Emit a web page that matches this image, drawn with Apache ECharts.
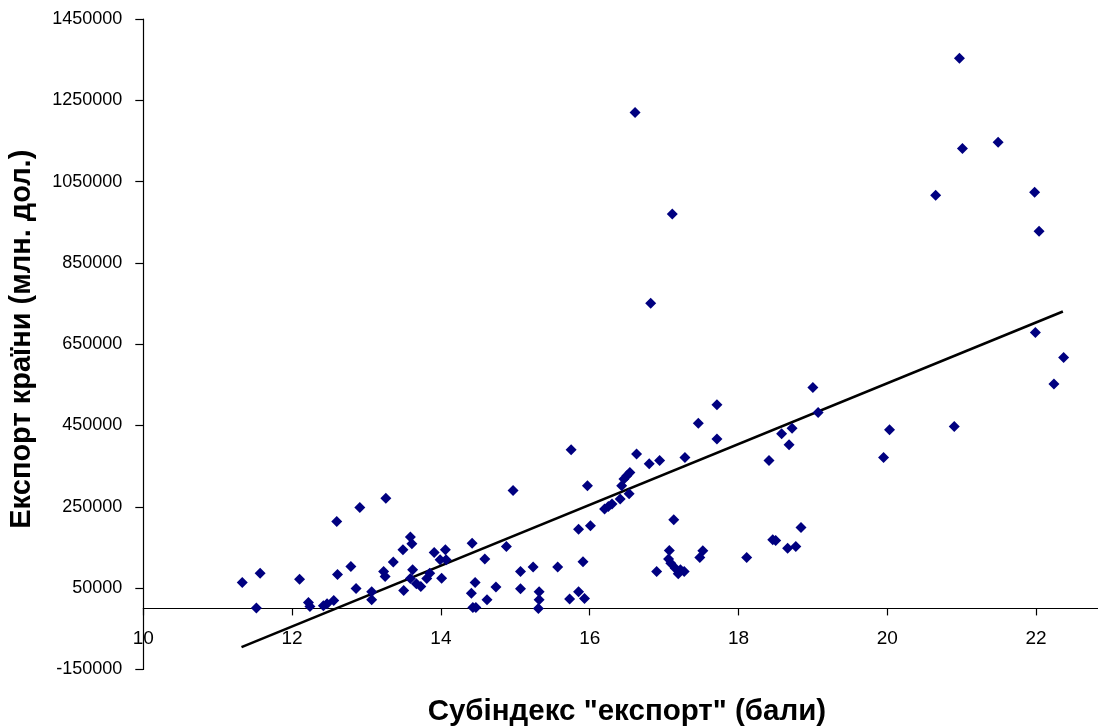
<!DOCTYPE html>
<html lang="uk">

<head>
    <meta charset="UTF-8">
    <style>
    html,
    body {
        height: 100%;
        margin: 0;
        background: #fff;
    }
  </style>
</head>

<body>
<div id="chart" style="width:1098px;height:728px;"></div>
<script src="https://cdn.jsdelivr.net/npm/echarts@6/dist/echarts.min.js"></script>
<script>
    // субіндекс "експорт" (бали)
    var scoreX = [
        11.33, 11.52, 11.57, 12.10, 12.22, 12.24, 12.42, 12.47, 12.56, 12.60,
        12.61, 12.79, 12.86, 12.91, 13.07, 13.07, 13.23, 13.25, 13.26, 13.36,
        13.49, 13.50, 13.59, 13.61, 13.62, 13.59, 13.67, 13.73, 13.81, 13.85,
        13.91, 13.99, 14.06, 14.07, 14.01, 14.42, 14.41, 14.46, 14.43, 14.47,
        14.59, 14.62, 14.74, 14.88, 14.97, 15.07, 15.07, 15.24, 15.32, 15.32,
        15.31, 15.57, 15.73, 15.75, 15.85, 15.85, 15.91, 15.93, 15.97, 16.01,
        16.20, 16.25, 16.30, 16.41, 16.43, 16.46, 16.50, 16.54, 16.53, 16.63,
        16.80, 16.94, 16.90, 17.07, 17.06, 17.09, 17.13, 17.15, 17.19, 17.22,
        17.27, 17.28, 17.46, 17.48, 17.52, 17.71, 17.71, 18.11, 18.41, 18.46,
        18.50, 18.58, 18.72, 18.68, 18.66, 18.77, 18.84, 19.00, 19.07, 19.95,
        20.03, 20.90, 21.99, 22.24, 22.37, 16.61, 17.11, 16.82, 20.97, 21.01,
        21.49, 20.65, 21.98, 22.04
    ];
    // експорт країни (млн. дол.)
    var exportY = [
        63700, 1000, 86800, 72000, 14500, 4700, 6400, 11300, 19400, 213800,
        83400, 103100, 49000, 248200, 40800, 21200, 90800, 78500, 271300, 113900,
        144200, 44000, 175400, 158900, 95000, 73600, 60500, 53900, 73600, 86800,
        137500, 119600, 144200, 119600, 74500, 160600, 37600, 63700, 2200, 2200,
        121300, 21200, 52400, 152300, 290000, 90800, 48200, 101600, 40800, 21200,
        0, 101600, 22900, 390200, 40800, 195000, 114600, 24400, 301600, 203200,
        244300, 250700, 256600, 268900, 301600, 318100, 326200, 334300, 281900, 379600,
        355700, 363800, 90800, 142400, 121300, 111400, 217900, 99100, 85100, 95000,
        90800, 371200, 455800, 125200, 141700, 500900, 416500, 125200, 363800, 168800,
        167000, 429500, 443500, 402500, 148300, 152300, 199000, 543400, 481900, 371200,
        439400, 447500, 678700, 551800, 617200, 1219900, 970000, 751000, 1353700, 1131400,
        1147100, 1016700, 1024100, 928100
    ];
    // лінія тренду
    var trendX = [11.32, 22.36];
    var trendY = [-95200, 730400];

    var yMin = -150000, yMax = 1450000;

    var points = [];
    for (var i = 0; i < scoreX.length; i++) {
        points.push([scoreX[i], exportY[i]]);
    }
    var trend = [];
    for (var j = 0; j < trendX.length; j++) {
        trend.push([trendX[j], trendY[j]]);
    }

    var font = 'Liberation Sans, Arial, sans-serif';
    var gridTop = 19, gridBottom = 58.6;
    var plotH = 728 - gridTop - gridBottom;
    // move the x axis up to y = 0
    var zeroOffset = -plotH * (0 - yMin) / (yMax - yMin);

    var myChart = echarts.init(document.getElementById('chart'));
    myChart.setOption({
        animation: false,
        grid: {
            left: 143.3,
            top: gridTop,
            right: -12.5,
            bottom: gridBottom,
            containLabel: false,
            outerBoundsMode: 'none'
        },
        xAxis: {
            type: 'value',
            min: 10,
            max: 23,
            interval: 2,
            offset: zeroOffset,
            name: 'Субіндекс "експорт" (бали)',
            nameLocation: 'middle',
            nameGap: 103,
            nameTextStyle: {
                fontFamily: font,
                fontSize: 29.5,
                fontWeight: 'bold',
                color: '#000',
                verticalAlign: 'middle',
                align: 'center'
            },
            axisLine: { onZero: false, lineStyle: { color: '#000', width: 1.2 } },
            axisTick: { length: 7, lineStyle: { color: '#000', width: 1.2 } },
            axisLabel: {
                margin: 21,
                fontFamily: font,
                fontSize: 19,
                color: '#000',
                formatter: function (v) { return v % 2 === 0 ? String(v) : ''; }
            },
            splitLine: { show: false }
        },
        yAxis: {
            type: 'value',
            min: yMin,
            max: yMax,
            interval: 200000,
            name: 'Експорт країни (млн. дол.)',
            nameLocation: 'middle',
            nameGap: 121,
            nameTextStyle: {
                fontFamily: font,
                fontSize: 29,
                fontWeight: 'bold',
                color: '#000',
                verticalAlign: 'middle',
                align: 'center',
                padding: [0, 0, 0, 10]
            },
            axisLine: { show: true, onZero: false, lineStyle: { color: '#000', width: 1.2 } },
            axisTick: { show: true, length: 8, lineStyle: { color: '#000', width: 1.2 } },
            axisLabel: {
                margin: 21,
                fontFamily: font,
                fontSize: 18,
                color: '#000',
                formatter: function (v) { return String(v); }
            },
            splitLine: { show: false }
        },
        series: [{
            type: 'scatter',
            data: points,
            symbol: 'diamond',
            symbolSize: 11,
            itemStyle: { color: '#000080', opacity: 1 },
            z: 3
        }, {
            type: 'line',
            data: trend,
            symbol: 'none',
            lineStyle: { color: '#000', width: 2.6 },
            z: 2
        }]
    });
</script>
</body>
</html>
